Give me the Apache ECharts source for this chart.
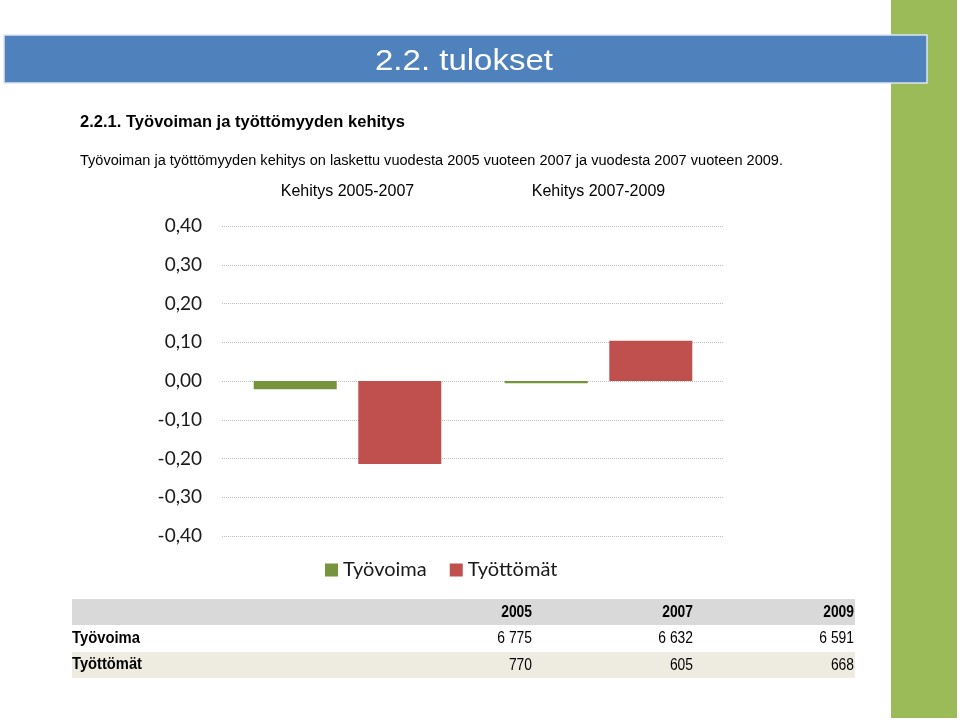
<!DOCTYPE html>
<html>
<head>
<meta charset="utf-8">
<script src="https://cdn.jsdelivr.net/npm/echarts@6/dist/echarts.min.js"></script>
<style>html,body{margin:0;padding:0;background:#fff}#c{width:960px;height:720px}</style>
</head>
<body>
<div id="c"></div>
<script>
const categories = ['Kehitys 2005-2007', 'Kehitys 2007-2009'];
const tyovoimaChange = [-0.021, -0.006];
const tyottomatChange = [-0.214, 0.104];
const seriesNames = ['Työvoima', 'Työttömät'];
const tableYears = ['2005', '2007', '2009'];
const tableTyovoima = ['6 775', '6 632', '6 591'];
const tableTyottomat = ['770', '605', '668'];

const sans = "'Liberation Sans', Arial, sans-serif";
const chartFont = "Lato, 'Open Sans', sans-serif";

const mctx = document.createElement('canvas').getContext('2d');
function fitScale(text, font, width) {
  mctx.font = font;
  return width / mctx.measureText(text).width;
}
function narrowText(text, x, y, font, width, align, fill) {
  const s = fitScale(text, font, width);
  return {type: 'text', x: x, y: y, scaleX: s, z: 3,
    style: {text: text, fill: fill || '#000', font: font, align: align || 'left', verticalAlign: 'middle'}};
}

const chart = echarts.init(document.getElementById('c'), null, {renderer: 'canvas'});

const tableColX = [532, 693, 854];
const rowsY = [612, 638.5, 665];
const titleFont = '29px ' + sans;
const graphics = [
  {type: 'rect', shape: {x: 891, y: 0, width: 66, height: 718}, style: {fill: '#9BBB59'}, z: 1},
  {type: 'rect', shape: {x: 4, y: 35, width: 923, height: 48}, style: {fill: '#4F81BD', stroke: '#dce6f2', lineWidth: 1.5}, z: 2},
  {type: 'text', x: 464, y: 62, scaleX: fitScale('2.2. tulokset', titleFont, 178), z: 3,
    style: {text: '2.2. tulokset', fill: '#fff', font: titleFont, align: 'center', verticalAlign: 'middle'}},
  narrowText('2.2.1. Työvoiman ja työttömyyden kehitys', 80, 122, 'bold 17px ' + sans, 325),
  narrowText('Työvoiman ja työttömyyden kehitys on laskettu vuodesta 2005 vuoteen 2007 ja vuodesta 2007 vuoteen 2009.', 80, 161, '14px ' + sans, 703),
  {type: 'rect', shape: {x: 72, y: 599, width: 783, height: 26}, style: {fill: '#D9D9D9'}, z: 1},
  {type: 'rect', shape: {x: 72, y: 652, width: 783, height: 26}, style: {fill: '#EEECE1'}, z: 1},
  narrowText(seriesNames[0], 72, rowsY[1], 'bold 16px ' + sans, 68),
  narrowText(seriesNames[1], 72, rowsY[2], 'bold 16px ' + sans, 70)
];
const numScale = 0.84;
const numFont = '16.5px ' + sans;
tableYears.forEach((y, i) => {
  graphics.push({type: 'text', x: tableColX[i], y: rowsY[0], scaleX: numScale, z: 3, style: {text: y, fill: '#000', font: 'bold ' + numFont, align: 'right', verticalAlign: 'middle'}});
  graphics.push({type: 'text', x: tableColX[i], y: rowsY[1], scaleX: numScale, z: 3, style: {text: tableTyovoima[i], fill: '#000', font: numFont, align: 'right', verticalAlign: 'middle'}});
  graphics.push({type: 'text', x: tableColX[i], y: rowsY[2], scaleX: numScale, z: 3, style: {text: tableTyottomat[i], fill: '#000', font: numFont, align: 'right', verticalAlign: 'middle'}});
});

chart.setOption({
  animation: false,
  backgroundColor: '#fff',
  graphic: graphics,
  grid: {left: 222, right: 236, top: 226, height: 310, containLabel: false},
  legend: {
    data: seriesNames,
    left: 325, top: 560, padding: 0,
    itemWidth: 13, itemHeight: 13, itemGap: 23,
    icon: 'rect',
    textStyle: {fontFamily: chartFont, fontSize: 20, color: '#1a1a1a'}
  },
  xAxis: {
    type: 'category',
    position: 'top',
    data: categories,
    axisLine: {show: false},
    axisTick: {show: false},
    axisLabel: {margin: 26, fontFamily: sans, fontSize: 16, color: '#000'}
  },
  yAxis: {
    type: 'value',
    min: -0.4, max: 0.4, interval: 0.1,
    axisLine: {show: false},
    axisTick: {show: false},
    splitLine: {lineStyle: {color: '#bfbfbf', type: 'dotted', width: 1}},
    axisLabel: {margin: 20, fontFamily: chartFont, fontSize: 19, color: '#1a1a1a',
      formatter: v => v.toFixed(2).replace('.', ',').replace('-0,00', '0,00')}
  },
  series: [
    {name: seriesNames[0], type: 'bar', data: tyovoimaChange, barWidth: 83, barGap: '26%', itemStyle: {color: '#77933C'}},
    {name: seriesNames[1], type: 'bar', data: tyottomatChange, barWidth: 83, itemStyle: {color: '#C0504D'}}
  ]
});
</script>
</body>
</html>
